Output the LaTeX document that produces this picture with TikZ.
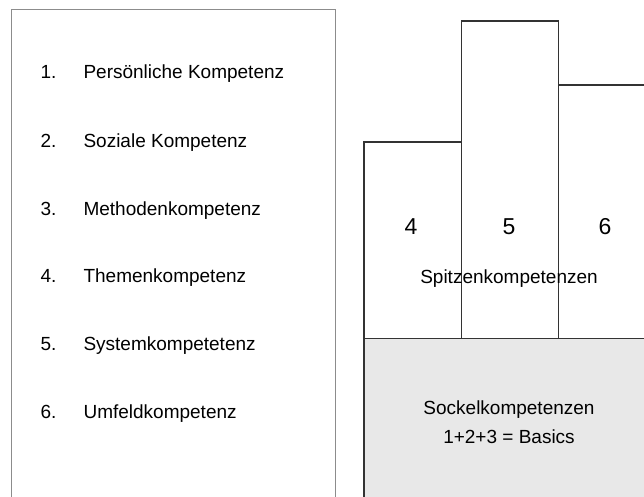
\documentclass[tikz,border=0pt]{standalone}
\usepackage{fontspec}
\setmainfont{Liberation Sans}
\definecolor{boxline}{HTML}{333333}
\definecolor{frameline}{HTML}{8C8C8C}
\definecolor{sockel}{HTML}{E8E8E8}
\begin{document}
\begin{tikzpicture}[x=1pt,y=-1pt,
  bar/.style={draw=boxline,line width=1.2pt,fill=white},
  itemnum/.style={anchor=base west,font=\fontsize{19}{23}\selectfont},
  itemtxt/.style={anchor=base west,font=\fontsize{19}{23}\selectfont},
  bignum/.style={font=\fontsize{23}{27}\selectfont},
  lbl/.style={font=\fontsize{19}{29}\selectfont,align=center}]
\useasboundingbox (0,0) rectangle (644,497);
% left frame
\draw[frameline,line width=1.2pt] (11.5,505) -- (11.5,9.5) -- (335.5,9.5) -- (335.5,505);
% list
\foreach \n/\t/\y in {1/Persönliche Kompetenz/79,2/Soziale Kompetenz/147,3/Methodenkompetenz/215,4/Themenkompetenz/282,5/Systemkompetetenz/350,6/Umfeldkompetenz/418}{
  \node[itemnum] (n\n) at (37,\y) {\n.};
  \node[itemtxt] (t\n) at (80,\y) {\t};
}
% base
\fill[sockel] (364,338.5) rectangle (650,505);
\draw[draw=boxline,line width=1.2pt] (364,505) -- (364,338.5) -- (650,338.5);
% bars
\draw[bar] (364,338.5) rectangle (461.5,142);
\draw[bar] (461.5,338.5) rectangle (558.5,21);
\draw[bar] (650,85) -- (558.5,85) -- (558.5,338.5) -- (650,338.5);
\node[bignum] (b4) at (411,227) {4};
\node[bignum] (b5) at (509,227) {5};
\node[bignum] (b6) at (605,227) {6};
\node[lbl] (spitz) at (509,279) {Spitzenkompetenzen};
\node[lbl] (sockl) at (509,422.5) {Sockelkompetenzen\\1+2+3 = Basics};
\end{tikzpicture}
\end{document}
